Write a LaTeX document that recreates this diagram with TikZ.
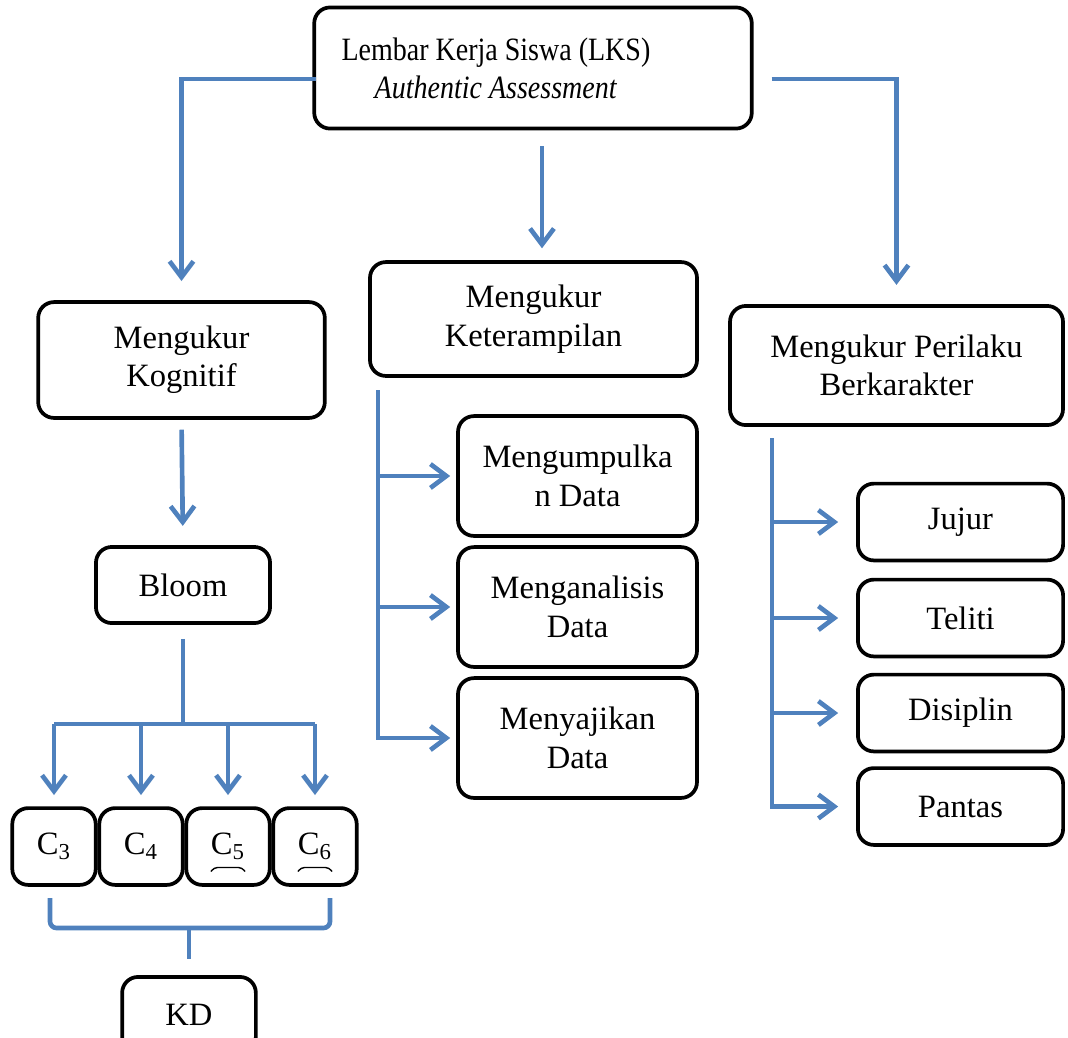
\documentclass[tikz,border=0pt]{standalone}
\usepackage{graphicx}
\usepackage{fontspec}
\setmainfont{Liberation Serif}
\usetikzlibrary{arrows.meta, calc}
\definecolor{myblue}{RGB}{79,129,189}

\begin{document}
\begin{tikzpicture}[x=0.0151cm, y=-0.0151cm,
    box/.style={draw, line width=1.6pt, rounded corners=2.4mm, align=center, font=\fontsize{14}{16.5}\selectfont, inner sep=2pt},
    line/.style={myblue, line width=2pt},
    arr/.style={line, -{Straight Barb[length=2.4mm, width=3.6mm]}}]
    \useasboundingbox (0,0) rectangle (1068,1037);

    % LKS
    \node[box, font=\fontsize{14}{16.3}\selectfont, minimum width=6.61cm, minimum height=1.83cm] (lks) at (533,68)
        {\scalebox{0.86}[1]{Lembar Kerja Siswa (LKS)}\hspace*{1.12cm}\\\scalebox{0.86}[1]{\textit{Authentic Assessment}}\hspace*{1.12cm}};

    % three aspects
    \node[box, minimum width=4.33cm, minimum height=1.75cm] (kog) at (181.5,360) {Mengukur\\Kognitif};
    \node[box, minimum width=4.94cm, minimum height=1.72cm] (ket) at (533.5,319) {Mengukur\\Keterampilan};
    \node[box, minimum width=5.03cm, minimum height=1.80cm] (per) at (896.5,365.5) {Mengukur Perilaku\\Berkarakter};

    % arrows from LKS
    \draw[arr, shorten >=2.9mm] ($(lks.west)+(4,11)$) -| (kog.north);
    \draw[arr, shorten >=2.9mm] ($(lks.east)+(18,11)$) -| (per.north);
    \draw[arr, shorten <=2.4mm, shorten >=1.8mm] ($(lks.south)+(9,0)$) -- ($(ket.north)+(8.5,0)$);

    % Bloom
    \node[box, minimum width=2.63cm, minimum height=1.15cm] (bloom) at (183,585) {Bloom};
    \draw[arr, shorten <=1.5mm, shorten >=2.9mm] (kog.south) -- (bloom.north);

    % C3 .. C6
    \foreach \n/\x in {3/54, 4/141, 5/228, 6/315}
        \node[box, minimum width=1.26cm, minimum height=1.16cm] (c\n) at (\x,846.5) {C\textsubscript{\n}};
    \coordinate (bus) at (183,724);
    \draw[line, shorten <=2.1mm] (bloom.south) -- (bus);
    \draw[line] (c3.north |- bus) -- (c6.north |- bus);
    \foreach \n in {3,4,5,6}
        \draw[arr, shorten >=1.7mm] (c\n.north |- bus) -- (c\n.north);
    \foreach \n in {5,6}
        \draw[line width=0.6pt, rounded corners=1.5pt] ($(c\n)+(-17,25)$) -- ($(c\n)+(-14,21)$) -- ($(c\n)+(14,21)$) -- ($(c\n)+(17,25)$);

    % KD
    \node[box, minimum width=2.02cm, minimum height=1.15cm] (kd) at (189,1015) {KD};
    \coordinate (bl) at (50,898);
    \coordinate (br) at (330,898);
    \draw[line, rounded corners=1mm] (bl) |- (kd.north |- 0,928) -| (br);
    \draw[line, shorten >=2.5mm] (kd.north |- 0,928) -- (kd.north);

    % Keterampilan
    \node[box, minimum width=3.61cm, minimum height=1.81cm] (kumpul) at (577.5,476) {Mengumpulka\\n Data};
    \node[box, minimum width=3.61cm, minimum height=1.81cm] (analisis) at (577.5,607) {Menganalisis\\Data};
    \node[box, minimum width=3.61cm, minimum height=1.81cm] (saji) at (577.5,738) {Menyajikan\\Data};
    \coordinate (kettrunk) at (378,390);
    \draw[arr, shorten >=0.9mm] (kettrunk) |- (saji.west);
    \foreach \b in {kumpul, analisis}
        \draw[arr, shorten >=0.9mm] (kettrunk |- \b.west) -- (\b.west);

    % Perilaku
    \node[box, minimum width=3.10cm, minimum height=1.16cm] (jujur) at (960.5,522) {Jujur};
    \node[box, minimum width=3.10cm, minimum height=1.16cm] (teliti) at (960.5,618) {Teliti};
    \node[box, minimum width=3.10cm, minimum height=1.16cm] (disiplin) at (960.5,713) {Disiplin};
    \node[box, minimum width=3.10cm, minimum height=1.16cm] (pantas) at (960.5,806.5) {Pantas};
    \coordinate (pertrunk) at (772,438);
    \draw[arr, shorten >=2.7mm] (pertrunk) |- (pantas.west);
    \foreach \b in {jujur, teliti, disiplin}
        \draw[arr, shorten >=2.7mm] (pertrunk |- \b.west) -- (\b.west);
\end{tikzpicture}
\end{document}
